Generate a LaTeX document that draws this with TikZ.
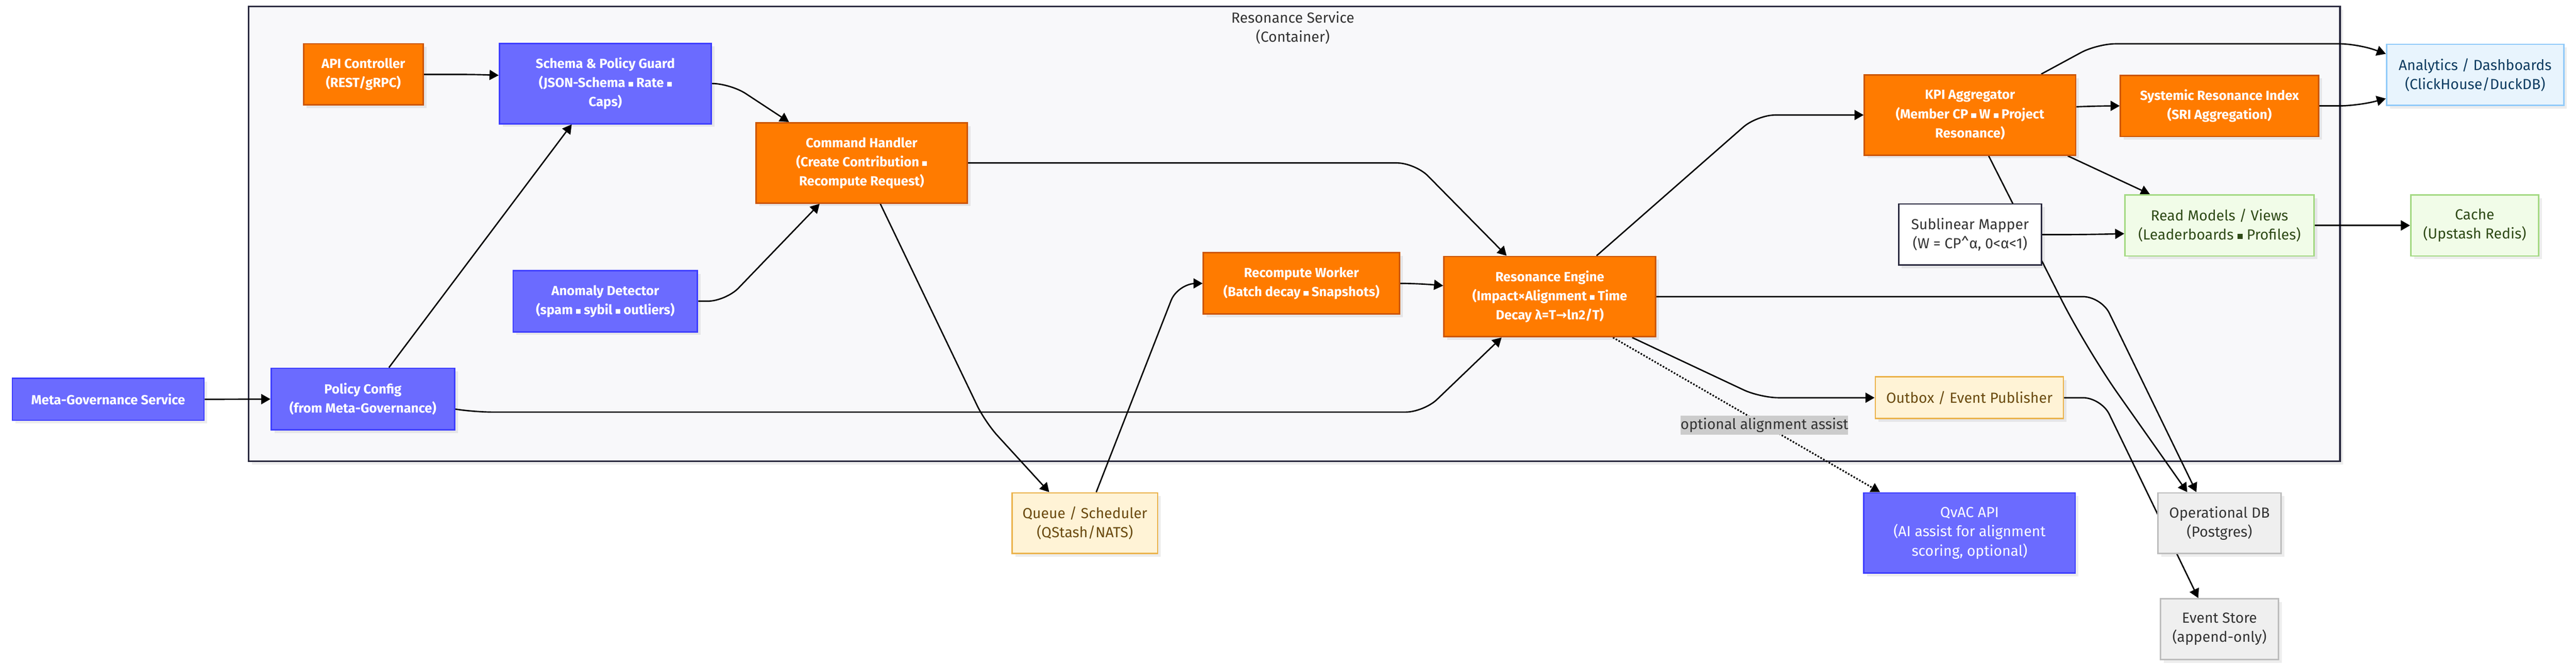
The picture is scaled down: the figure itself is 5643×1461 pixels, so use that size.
\documentclass[tikz,border=0pt]{standalone}
\usepackage{fontspec}
\setmainfont{Fira Sans}
\newfontfamily\symf{DejaVu Sans}
\usetikzlibrary{arrows.meta,shadows}
\pgfdeclarelayer{bglayer}
\pgfdeclarelayer{edgelayer}
\pgfsetlayers{bglayer,edgelayer,main}
\newcommand\bsq{\rule[0.05em]{0.36em}{0.36em}}
\definecolor{cOr}{HTML}{FF7B00}
\definecolor{cOrB}{HTML}{CC5500}
\definecolor{cBl}{HTML}{6B6BFF}
\definecolor{cBlB}{HTML}{3E3EFF}
\definecolor{cLb}{HTML}{E8F4FD}
\definecolor{cLbB}{HTML}{90CAF9}
\definecolor{cLbT}{HTML}{0D3C61}
\definecolor{cGr}{HTML}{F1FCE8}
\definecolor{cGrB}{HTML}{A3D982}
\definecolor{cGrT}{HTML}{2E4A16}
\definecolor{cCr}{HTML}{FFF3D6}
\definecolor{cCrB}{HTML}{EBB24A}
\definecolor{cCrT}{HTML}{6B4A0F}
\definecolor{cGy}{HTML}{EFEFEF}
\definecolor{cGyB}{HTML}{BDBDBD}
\definecolor{cGyT}{HTML}{333333}
\definecolor{cDk}{HTML}{2B2B40}
\definecolor{cCt}{HTML}{F8F8FA}
\definecolor{cLbl}{HTML}{CCCCCC}
\begin{document}
\begin{tikzpicture}[x=0.5pt,y=-0.5pt,
  shad/.style={drop shadow={shadow xshift=3.5pt,shadow yshift=-3.5pt,fill=black,opacity=0.07}},
  box/.style={shad,draw,line width=1.6pt,inner sep=0pt,align=center,font=\fontsize{16pt}{21pt}\selectfont},
  nor/.style={box,fill=cOr,draw=cOrB,text=white,font=\fontsize{14.5pt}{21pt}\selectfont\bfseries},
  nbl/.style={box,fill=cBl,draw=cBlB,text=white,font=\fontsize{14.5pt}{21pt}\selectfont\bfseries},
  nblr/.style={box,fill=cBl,draw=cBlB,text=white},
  nlb/.style={box,fill=cLb,draw=cLbB,text=cLbT},
  ngr/.style={box,fill=cGr,draw=cGrB,text=cGrT},
  ncr/.style={box,fill=cCr,draw=cCrB,text=cCrT},
  ngy/.style={box,fill=cGy,draw=cGyB,text=cGyT},
  nwh/.style={box,fill=white,draw=cDk,text=cGyT},
  conn/.style={line width=1.5pt,black,-{Triangle[length=10pt,width=11pt]},rounded corners=20pt},
  dotconn/.style={line width=1.75pt,black,dash pattern=on 1.75pt off 1.75pt,-{Triangle[length=10pt,width=11pt]}}
]
\useasboundingbox (0,0) rectangle (5643,1461);

% container
\begin{pgfonlayer}{bglayer}
\node[shad,draw=cDk,fill=cCt,line width=1.75pt,minimum width=2290.5pt,minimum height=498.5pt,inner sep=0pt] (svc) at (2835.5,512.5) {};
\end{pgfonlayer}
\node[anchor=north,inner sep=0pt,align=center,text=cGyT,font=\fontsize{16pt}{21pt}\selectfont] (svctitle) at (2832,25) {Resonance Service\\(Container)};

% nodes
\node[nbl,minimum width=210pt,minimum height=46pt] (meta) at (237,875) {Meta-Governance Service};
\node[nbl,minimum width=201pt,minimum height=67.5pt] (policy) at (795,874.5) {Policy Config\\(from Meta-Governance)};
\node[nor,minimum width=131pt,minimum height=67pt] (api) at (796,163) {API Controller\\(REST/gRPC)};
\node[nbl,minimum width=232pt,minimum height=88pt] (schema) at (1326,183) {Schema \& Policy Guard\\(JSON-Schema \bsq\ Rate \bsq\\Caps)};
\node[nbl,minimum width=202pt,minimum height=67pt] (anomaly) at (1326,660) {Anomaly Detector\\(spam \bsq\ sybil \bsq\ outliers)};
\node[nor,minimum width=231.5pt,minimum height=88pt] (cmd) at (1887.5,357) {Command Handler\\(Create Contribution \bsq\\Recompute Request)};
\node[nor,minimum width=215pt,minimum height=67pt] (worker) at (2851,621) {Recompute Worker\\(Batch decay \bsq\ Snapshots)};
\node[nor,minimum width=232pt,minimum height=88pt] (engine) at (3395,650) {Resonance Engine\\(Impact×Alignment \bsq\ Time\\Decay λ=T{\symf→}ln2/T)};
\node[ncr,minimum width=159.5pt,minimum height=66.5pt] (queue) at (2376.5,1146.5) {Queue / Scheduler\\(QStash/NATS)};
\node[nor,minimum width=231.5pt,minimum height=88pt] (kpi) at (4315.5,252) {KPI Aggregator\\(Member CP \bsq\ W \bsq\ Project\\Resonance)};
\node[nor,minimum width=217pt,minimum height=67pt] (sri) at (4862,232) {Systemic Resonance Index\\(SRI Aggregation)};
\node[nlb,minimum width=194pt,minimum height=67pt] (analytics) at (5422,164) {Analytics / Dashboards\\(ClickHouse/DuckDB)};
\node[nwh,minimum width=156.5pt,minimum height=67pt] (mapper) at (4315.5,514) {Sublinear Mapper\\(W = CP\textasciicircum α, 0<α<1)};
\node[ngr,minimum width=207pt,minimum height=67pt] (readm) at (4862,494) {Read Models / Views\\(Leaderboards \bsq\ Profiles)};
\node[ngr,minimum width=140pt,minimum height=67pt] (cache) at (5421,494) {Cache\\(Upstash Redis)};
\node[ncr,minimum width=206pt,minimum height=45.5pt] (outbox) at (4314,871.5) {Outbox / Event Publisher};
\node[nblr,minimum width=231.5pt,minimum height=88pt] (qvac) at (4314.5,1168) {QvAC API\\(AI assist for alignment\\scoring, optional)};
\node[ngy,minimum width=135pt,minimum height=66.5pt] (db) at (4862,1146.5) {Operational DB\\(Postgres)};
\node[ngy,minimum width=129pt,minimum height=66.5pt] (evstore) at (4862,1378.5) {Event Store\\(append-only)};

% connectors
\begin{pgfonlayer}{edgelayer}
\draw[conn] (meta.east) -- (policy.west);
\draw[conn] (api.east) -- (1040,163) -- ([yshift=9pt]schema.west);
\draw[conn] (schema.east) -- (1600,183) -- ([xshift=37pt]cmd.north west);
\draw[conn] ([xshift=28.5pt]policy.north) -- ([xshift=80pt]schema.south west);
\draw[conn] (anomaly.east) -- (1590,660) -- ([xshift=70.5pt]cmd.south west);
\draw[conn] (cmd.east) -- (3100,357) -- ([xshift=69.5pt]engine.north west);
\draw[conn] ([xshift=137pt]cmd.south west) -- (2158,925) -- ([xshift=41.5pt]queue.north west);
\draw[conn] ([xshift=93pt]queue.north west) -- (2580,621) -- (worker.west);
\draw[conn] (worker.east) -- (3110,621) -- ([yshift=12pt]engine.west);
\draw[conn] ([yshift=-11pt]policy.east) -- (1040,903) -- (3119,903) -- ([xshift=64pt]engine.south west);
\draw[conn] ([xshift=168pt]engine.north west) -- (3849,252) -- (kpi.west);
\draw[conn] ([yshift=9pt]kpi.east) -- (4600,232) -- (sri.west);
\draw[conn] ([xshift=194.5pt]kpi.north west) -- (4594,96) -- (5165,96) -- ([yshift=23pt]analytics.west);
\draw[conn] (sri.east) -- (5165,232) -- ([yshift=-26pt]analytics.west);
\draw[conn] ([xshift=-9.5pt]kpi.south east) -- ([xshift=28pt]readm.north west);
\draw[conn,rounded corners=60pt] ([xshift=137pt]kpi.south west) -- (4570,764) -- ([xshift=33pt]db.north west);
\draw[conn] (engine.east) -- (4603,650) -- ([xshift=43pt]db.north west);
\draw[conn] ([xshift=207pt]engine.south west) -- (3856,871.5) -- (outbox.west);
\draw[dotconn] ([xshift=186pt]engine.south west) -- node[pos=0.567,fill=cLbl,inner xsep=0pt,inner ysep=0pt,minimum height=20.5pt,text=cGyT,font=\fontsize{16pt}{21pt}\selectfont] (lbl) {optional alignment assist} ([xshift=18.5pt]qvac.north west);
\draw[conn] (outbox.east) -- (4603,871.5) -- ([xshift=42pt]evstore.north west);
\draw[conn] (mapper.east) -- (4570,514) -- ([yshift=-9pt]readm.west);
\draw[conn] (readm.east) -- (cache.west);
\end{pgfonlayer}
\end{tikzpicture}
\end{document}
